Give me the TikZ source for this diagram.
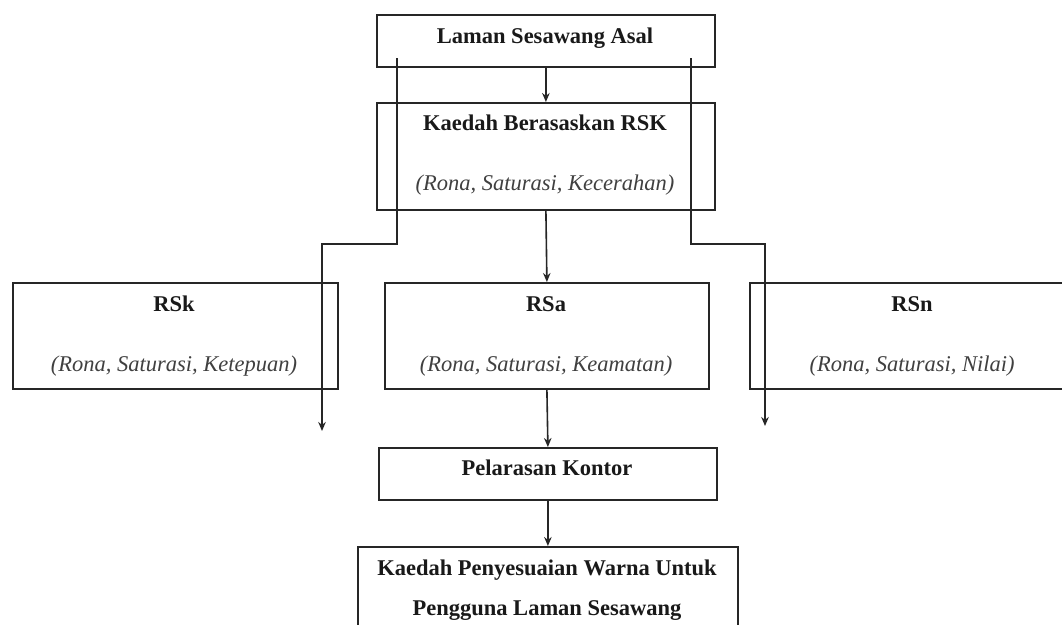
\documentclass[tikz,border=0pt]{standalone}
\usepackage{fontspec}
\setmainfont{Liberation Serif}
\usetikzlibrary{arrows.meta}
\begin{document}
\begin{tikzpicture}[x=1pt,y=-1pt,
  box/.style={draw=black!85, line width=1.8pt, inner sep=0pt, anchor=north west},
  conn/.style={draw=black!85, line width=1.6pt},
  arr/.style={conn, -{Stealth[length=9pt,width=7.5pt]}},
  hd/.style={font=\fontsize{22.5}{27}\selectfont\bfseries, anchor=base, inner sep=0pt, text=black!90},
  sub/.style={font=\fontsize{22.5}{27}\selectfont\itshape, anchor=base, inner sep=0pt, text=black!75}]
\useasboundingbox (0,0) rectangle (1062,624);
\clip (0,0) rectangle (1062,624);
\fill[white] (0,0) rectangle (1062,624);

% boxes
\node[box, minimum width=338pt, minimum height=52pt]  (asal)  at (376,14)  {};
\node[box, minimum width=338pt, minimum height=107pt] (rsk)   at (376,102) {};
\node[box, minimum width=325pt, minimum height=106pt] (rsko)  at (12,282)  {};
\node[box, minimum width=324pt, minimum height=106pt] (rsa)   at (384,282) {};
\node[box, minimum width=326pt, minimum height=106pt] (rsn)   at (749,282) {};
\node[box, minimum width=338pt, minimum height=52pt]  (pel)   at (378,447) {};
\node[box, minimum width=380pt, minimum height=110pt] (final) at (357,546) {};

% texts
\node[hd]  (tasal)  at (545,43)  {Laman Sesawang Asal};
\node[hd]  (trsk)   at (545,130) {Kaedah Berasaskan RSK};
\node[sub] (srsk)   at (545,190) {(Rona, Saturasi, Kecerahan)};
\node[hd]  (trsko)  at (174,311) {RSk};
\node[sub] (srsko)  at (174,371) {(Rona, Saturasi, Ketepuan)};
\node[hd]  (trsa)   at (546,311) {RSa};
\node[sub] (srsa)   at (546,371) {(Rona, Saturasi, Keamatan)};
\node[hd]  (trsn)   at (912,311) {RSn};
\node[sub] (srsn)   at (912,371) {(Rona, Saturasi, Nilai)};
\node[hd]  (tpel)   at (547,475) {Pelarasan Kontor};
\node[hd]  (tfin1)  at (547,575) {Kaedah Penyesuaian Warna Untuk};
\node[hd]  (tfin2)  at (547,615) {Pengguna Laman Sesawang};

% connectors
\draw[arr] (asal.south) -- (rsk.north);
\draw[arr] (rsk.south) -- (rsa.north);
\draw[arr] (rsa.south) -- (pel.north);
\draw[arr] (pel.south) -- (final.north);

\coordinate (lstart) at (397,58);
\coordinate (lbend)  at (322,244);
\coordinate (lend)   at (322,431);
\draw[arr] (lstart) |- (lbend) -- (lend);

\coordinate (rstart) at (691,58);
\coordinate (rbend)  at (765,244);
\coordinate (rend)   at (765,426);
\draw[arr] (rstart) |- (rbend) -- (rend);
\end{tikzpicture}
\end{document}
